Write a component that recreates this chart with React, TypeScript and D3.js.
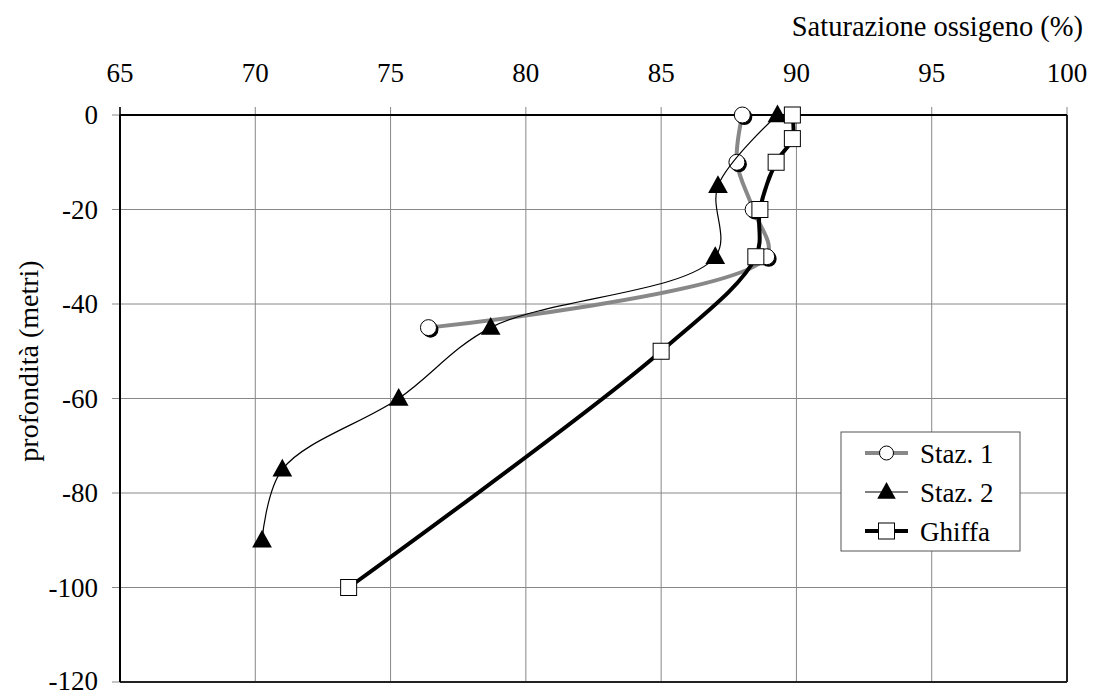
import React from "react";
import * as d3 from "d3";

const xTicks = [65, 70, 75, 80, 85, 90, 95, 100];
const yTicks = [0, -20, -40, -60, -80, -100, -120];

const staz1Sat = [88.0, 87.8, 88.4, 88.9, 76.4];
const staz1Depth = [0, -10, -20, -30, -45];

const staz2Sat = [89.3, 87.1, 87.0, 78.7, 75.3, 71.0, 70.25];
const staz2Depth = [0, -15, -30, -45, -60, -75, -90];

const ghiffaSat = [89.85, 89.85, 89.25, 88.65, 88.5, 85.0, 73.45];
const ghiffaDepth = [0, -5, -10, -20, -30, -50, -100];

const seriesNames = ["Staz. 1", "Staz. 2", "Ghiffa"];

const W = 1094, H = 693;
const left = 120, right = 1067, top = 115, bottom = 682;
const FONT = "'Liberation Serif', 'Times New Roman', serif";
const FS = 27;

export default function App() {
  const x = d3.scaleLinear().domain([65, 100]).range([left, right]);
  const y = d3.scaleLinear().domain([0, -120]).range([top, bottom]);

  const line = d3
    .line<[number, number]>()
    .x((d) => x(d[0]))
    .y((d) => y(d[1]))
    .curve(d3.curveCatmullRom.alpha(0.5));

  const s1 = staz1Sat.map((v, i) => [v, staz1Depth[i]] as [number, number]);
  const s2 = staz2Sat.map((v, i) => [v, staz2Depth[i]] as [number, number]);
  const s3 = ghiffaSat.map((v, i) => [v, ghiffaDepth[i]] as [number, number]);

  const tri = (cx: number, cy: number, s: number) =>
    `M${cx},${cy - s * 0.62} L${cx + s * 0.58},${cy + s * 0.42} L${cx - s * 0.58},${cy + s * 0.42} Z`;

  const legX = 841, legY = 432, legW = 179, legH = 119;
  const legRows = [453, 492, 531];

  return (
    <svg width={W} height={H} style={{ position: "absolute", left: 0, top: 0, background: "#fff" }}>
      <rect x={0} y={0} width={W} height={H} fill="#fff" />
      {/* grid */}
      {xTicks.map((t) => (
        <line key={"gx" + t} x1={x(t)} x2={x(t)} y1={top - 8} y2={bottom} stroke="#888" strokeWidth={1} />
      ))}
      {yTicks.map((t) => (
        <line key={"gy" + t} x1={left - 8} x2={right} y1={y(t)} y2={y(t)} stroke="#888" strokeWidth={1} />
      ))}
      {/* borders */}
      <line x1={left} x2={right} y1={bottom} y2={bottom} stroke="#222" strokeWidth={2} />
      <line x1={right} x2={right} y1={top} y2={bottom} stroke="#222" strokeWidth={2} />
      <line x1={left} x2={right} y1={top} y2={top} stroke="#000" strokeWidth={2} />
      <line x1={left} x2={left} y1={top} y2={bottom} stroke="#000" strokeWidth={2} />
      <line x1={x(65)} x2={x(65)} y1={top - 8} y2={top} stroke="#000" strokeWidth={1.5} />

      {/* tick labels */}
      {xTicks.map((t) => (
        <text key={"tx" + t} x={x(t)} y={82} textAnchor="middle" fontFamily={FONT} fontSize={FS} fill="#000">
          {t}
        </text>
      ))}
      {yTicks.map((t) => (
        <text key={"ty" + t} x={98} y={Math.min(y(t) + 9, 690)} textAnchor="end" fontFamily={FONT} fontSize={FS} fill="#000">
          {t}
        </text>
      ))}
      <text x={1083} y={36} textAnchor="end" fontFamily={FONT} fontSize={28.5} fill="#000">
        Saturazione ossigeno (%)
      </text>
      <text
        transform={`translate(38,${361}) rotate(-90)`}
        textAnchor="middle"
        fontFamily={FONT}
        fontSize={28}
        fill="#000"
      >
        profondità (metri)
      </text>

      {/* Staz. 1 */}
      <path d={line(s1) || ""} fill="none" stroke="#888" strokeWidth={4} />
      {s1.map((d, i) => (
        <g key={"c" + i}>
          <circle cx={x(d[0]) + 2} cy={y(d[1]) + 2} r={8} fill="#000" />
          <circle cx={x(d[0])} cy={y(d[1])} r={8} fill="#fff" stroke="#000" strokeWidth={1} />
        </g>
      ))}

      {/* Staz. 2 */}
      <path d={line(s2) || ""} fill="none" stroke="#000" strokeWidth={1.2} />
      {s2.map((d, i) => (
        <path key={"t" + i} d={tri(x(d[0]), y(d[1]), 17)} fill="#000" />
      ))}

      {/* Ghiffa */}
      <path d={line(s3) || ""} fill="none" stroke="#000" strokeWidth={4} />
      {s3.map((d, i) => (
        <rect key={"s" + i} x={x(d[0]) - 8} y={y(d[1]) - 8} width={16} height={16} fill="#fff" stroke="#000" strokeWidth={1} />
      ))}

      {/* legend */}
      <rect x={legX} y={legY} width={legW} height={legH} fill="#fff" stroke="#555" strokeWidth={1} />
      {seriesNames.map((name, i) => {
        const cy = legRows[i];
        const lx1 = 865, lx2 = 908, mx = (lx1 + lx2) / 2;
        return (
          <g key={name}>
            <line
              x1={lx1}
              x2={lx2}
              y1={cy}
              y2={cy}
              stroke={i === 0 ? "#888" : "#000"}
              strokeWidth={i === 1 ? 1.2 : 4}
            />
            {i === 0 && <circle cx={mx} cy={cy} r={7} fill="#fff" stroke="#000" strokeWidth={1} />}
            {i === 1 && <path d={tri(mx, cy, 16)} fill="#000" />}
            {i === 2 && <rect x={mx - 8} y={cy - 8} width={16} height={16} fill="#fff" stroke="#000" strokeWidth={1} />}
            <text x={920} y={cy + 10} fontFamily={FONT} fontSize={FS} fill="#000">
              {name}
            </text>
          </g>
        );
      })}
    </svg>
  );
}
